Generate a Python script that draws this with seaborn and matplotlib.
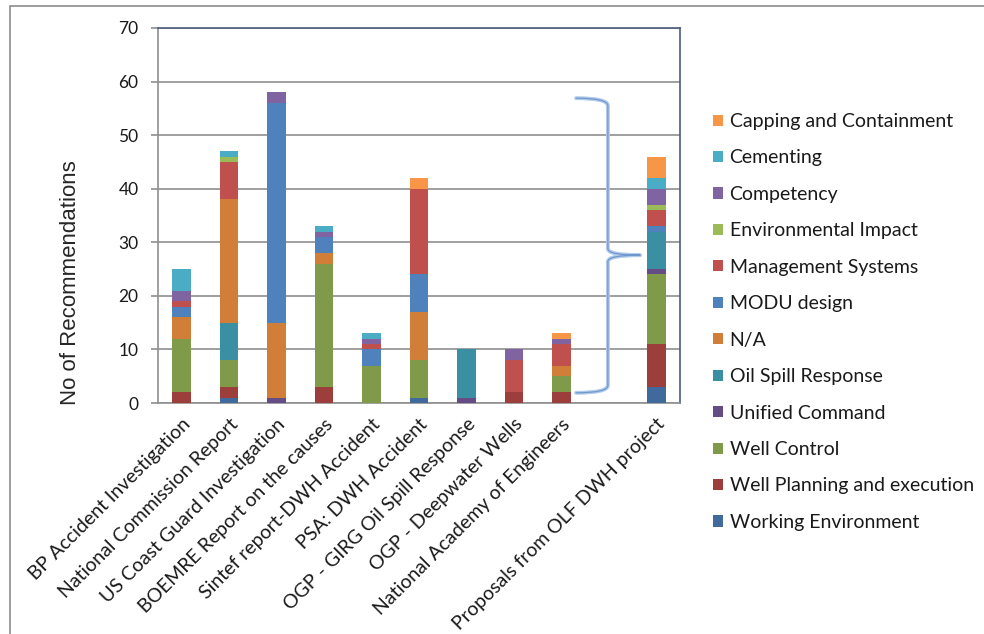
import pandas as pd
import seaborn as sns
import matplotlib.pyplot as plt
from matplotlib.path import Path
from matplotlib.patches import PathPatch, Rectangle

reports = ['BP Accident Investigation', 'National Commission Report',
           'US Coast Guard Investigation', 'BOEMRE Report on the causes',
           'Sintef report-DWH Accident', 'PSA: DWH Accident',
           'OGP - GIRG Oil Spill Response', 'OGP - Deepwater Wells',
           'National Academy of Engineers', '', 'Proposals from OLF DWH project']

topics = ['Capping and Containment', 'Cementing', 'Competency', 'Environmental Impact',
          'Management Systems', 'MODU design', 'N/A', 'Oil Spill Response',
          'Unified Command', 'Well Control', 'Well Planning and execution',
          'Working Environment']

# one value per report, same order as `reports`
capping      = [0, 0, 0, 0, 0, 2, 0, 0, 1, 0, 4]
cementing    = [4, 1, 0, 1, 1, 0, 0, 0, 0, 0, 2]
competency   = [2, 0, 2, 1, 1, 0, 0, 2, 1, 0, 3]
environment  = [0, 1, 0, 0, 0, 0, 0, 0, 0, 0, 1]
management   = [1, 7, 0, 0, 1, 16, 0, 6, 4, 0, 3]
modu         = [2, 0, 41, 3, 3, 7, 0, 0, 0, 0, 1]
na           = [4, 23, 14, 2, 0, 9, 0, 0, 2, 0, 0]
oil_spill    = [0, 7, 0, 0, 0, 0, 9, 0, 0, 0, 7]
unified      = [0, 0, 1, 0, 0, 0, 1, 0, 0, 0, 1]
well_control = [10, 5, 0, 23, 7, 7, 0, 0, 3, 0, 13]
well_plan    = [2, 2, 0, 3, 0, 0, 0, 2, 2, 0, 8]
work_env     = [0, 1, 0, 0, 0, 1, 0, 0, 0, 0, 3]

series = [capping, cementing, competency, environment, management, modu, na,
          oil_spill, unified, well_control, well_plan, work_env]

colors = ['#F79646', '#4BACC6', '#8064A2', '#9BBB59', '#C0504D', '#4F81BD',
          '#D07E38', '#3A8FA3', '#654C85', '#7F9A48', '#9C3E3B', '#40699C']

rows = []
for topic, vals in zip(topics, series):
    for i, v in enumerate(vals):
        rows.append({'pos': i, 'topic': topic, 'count': v})
df = pd.DataFrame(rows)

sns.set_style('white')
plt.rcParams['font.family'] = ['Lato', 'DejaVu Sans']

fig = plt.figure(figsize=(9.84, 6.34), dpi=100)
ax = fig.add_axes([158 / 984, 1 - 403 / 634, (680 - 158) / 984, (403 - 28) / 634])

# histplot stacks the last hue level at the bottom
sns.histplot(data=df, x='pos', weights='count', hue='topic', hue_order=topics,
             palette=colors, multiple='stack', discrete=True, shrink=0.39,
             alpha=1, linewidth=0, ax=ax, zorder=3)

ax.set_xlim(-0.5, 10.5)
ax.set_ylim(0, 70)
ax.set_yticks(range(0, 71, 10))
ax.yaxis.grid(True, color='#8f8f8f', lw=1.2, zorder=0)
ax.set_axisbelow(True)

ax.set_xticks(range(len(reports)))
ax.set_xticklabels(reports, rotation=45, ha='right', rotation_mode='anchor',
                   fontsize=14, color='#1a1a1a')
ax.set_xticks([i - 0.5 for i in range(len(reports) + 1)], minor=True)
ax.tick_params(axis='x', which='major', length=0, pad=9)
ax.tick_params(axis='x', which='minor', length=5, color='#8f8f8f', width=1.2)
ax.tick_params(axis='y', length=5, color='#8f8f8f', width=1.2, pad=9,
               labelsize=12.5, labelcolor='#1a1a1a', left=True)

ax.set_xlabel('')
ax.set_ylabel('No of Recommendations', fontsize=16, family='Liberation Sans')
ax.yaxis.set_label_coords((81 - 158) / 522, (403 - 283) / 375)

for side in ['left', 'bottom']:
    ax.spines[side].set_color('#8f8f8f')
    ax.spines[side].set_linewidth(1.2)
for side in ['top', 'right']:
    ax.spines[side].set_color('#4a5c7c')
    ax.spines[side].set_linewidth(1.2)

sns.move_legend(ax, loc='upper left', bbox_to_anchor=(713 / 984, 1 - 113 / 634),
                bbox_transform=fig.transFigure, title=None, frameon=False,
                fontsize=14, handlelength=0.5, handleheight=0.5,
                handletextpad=0.35, labelspacing=1.0, borderpad=0,
                borderaxespad=0)
for t in ax.get_legend().get_texts():
    t.set_color('#1a1a1a')

# curly brace grouping the reports
bx0, bx1, bx2 = 8.31, 8.98, 9.66
ytop, ymid, ybot = 56.9, 27.6, 1.9
verts = [(bx0, ytop), (bx1, ytop), (bx1, ytop - 1.4),
         (bx1, ymid + 1.2), (bx1, ymid), (bx2, ymid),
         (bx1, ymid), (bx1, ymid - 1.2),
         (bx1, ybot + 1.4), (bx1, ybot), (bx0, ybot)]
codes = [Path.MOVETO, Path.CURVE3, Path.CURVE3,
         Path.LINETO, Path.CURVE3, Path.CURVE3,
         Path.CURVE3, Path.CURVE3,
         Path.LINETO, Path.CURVE3, Path.CURVE3]
brace = Path(verts, codes)
ax.add_patch(PathPatch(brace, fill=False, ec='#b3cbea', lw=2.8, zorder=4,
                       joinstyle='round', capstyle='round'))
ax.add_patch(PathPatch(brace, fill=False, ec='#6f98cf', lw=0.9, zorder=5,
                       joinstyle='round', capstyle='round'))

# outer chart frame
fig.add_artist(Rectangle((10 / 984, -0.1), 2, 1 - 6 / 634 + 0.1,
                         transform=fig.transFigure, fill=False,
                         ec='#8c8c8c', lw=1.2))

fig.savefig('out.png', dpi=100)
